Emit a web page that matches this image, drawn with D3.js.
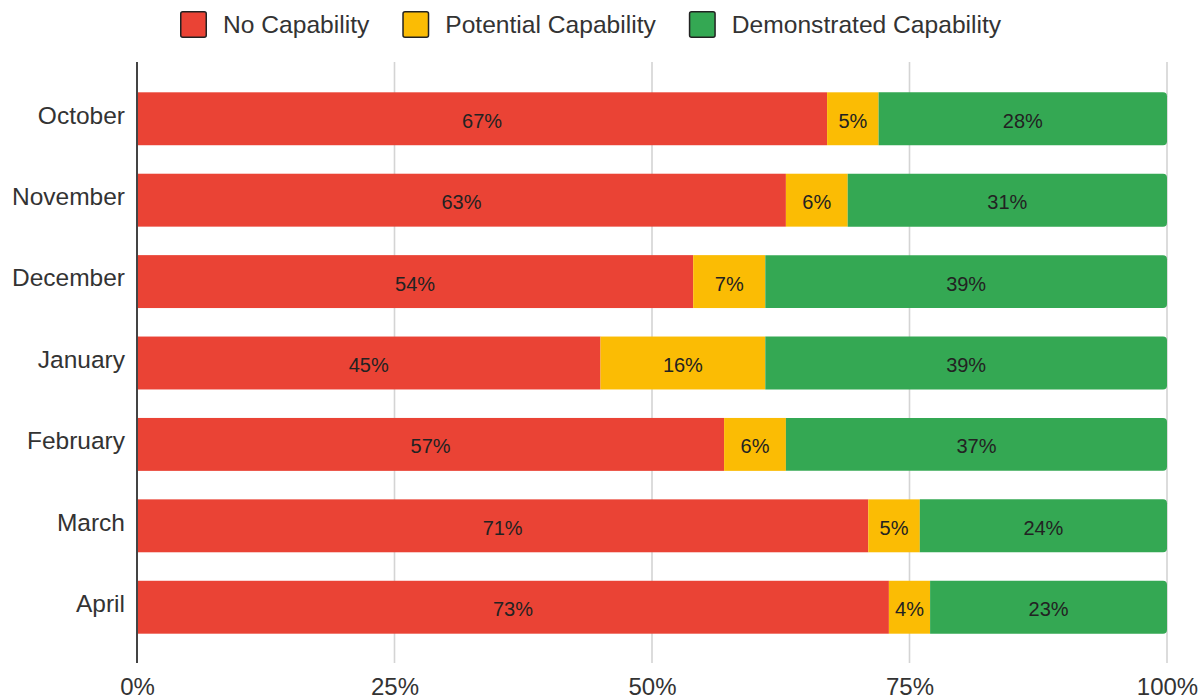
<!DOCTYPE html>
<html>
<head>
<meta charset="utf-8">
<script src="https://cdn.jsdelivr.net/npm/d3@7"></script>
<style>
  html, body { margin: 0; padding: 0; background: #fff; }
  svg { display: block; font-family: Arial, "Liberation Sans", sans-serif; }
</style>
</head>
<body>
<svg id="chart" width="1204" height="700"></svg>
<script>
// Monthly capability breakdown (percent of total)
const months = ["October", "November", "December", "January", "February", "March", "April"];
const noCapability = [67, 63, 54, 45, 57, 71, 73];
const potentialCapability = [5, 6, 7, 16, 6, 5, 4];
const demonstratedCapability = [28, 31, 39, 39, 37, 24, 23];
const seriesNames = ["No Capability", "Potential Capability", "Demonstrated Capability"];
const seriesColors = ["#EA4335", "#FBBC04", "#34A853"];
const tickValues = [0, 25, 50, 75, 100];

const svg = d3.select("#chart");
const margin = { left: 137, right: 37, top: 62, bottom: 37 };
const W = 1204, H = 700;

const rows = months.map((m, i) => ({
  month: m,
  values: [noCapability[i], potentialCapability[i], demonstratedCapability[i]]
}));

const x = d3.scaleLinear().domain([0, 100]).range([margin.left, W - margin.right]);
const y = d3.scaleBand().domain(months)
  .range([margin.top + 1, H - margin.bottom])
  .paddingInner(0.35).paddingOuter(0.36);

// vertical gridlines
svg.append("g").selectAll("line")
  .data(tickValues.filter(t => t > 0))
  .join("line")
  .attr("x1", d => x(d)).attr("x2", d => x(d))
  .attr("y1", margin.top).attr("y2", H - margin.bottom)
  .attr("stroke", "#d4d4d4").attr("stroke-width", 1.6);

// x axis tick labels
const xAxis = d3.axisBottom(x).tickValues(tickValues).tickFormat(d => d + "%").tickSize(0);
const gx = svg.append("g").attr("transform", `translate(0,${H - margin.bottom})`).call(xAxis);
gx.select(".domain").remove();
gx.selectAll("text")
  .attr("y", 0).attr("dy", "32px")
  .attr("font-size", 24).attr("fill", "#333")
  .attr("font-family", "Arial, 'Liberation Sans', sans-serif");

// stacked bars
const stack = rows.map(r => {
  let acc = 0;
  return r.values.map((v, k) => {
    const seg = { month: r.month, k, v, x0: acc, x1: acc + v };
    acc += v;
    return seg;
  });
});

const barG = svg.append("g");
const radius = 4;
stack.forEach(segs => {
  segs.forEach(s => {
    const x0 = x(s.x0), x1 = x(s.x1), y0 = y(s.month), h = y.bandwidth();
    if (s.k === segs.length - 1) {
      // last segment: rounded right end
      const r = radius;
      const p = d3.path();
      p.moveTo(x0, y0);
      p.lineTo(x1 - r, y0);
      p.quadraticCurveTo(x1, y0, x1, y0 + r);
      p.lineTo(x1, y0 + h - r);
      p.quadraticCurveTo(x1, y0 + h, x1 - r, y0 + h);
      p.lineTo(x0, y0 + h);
      p.closePath();
      barG.append("path").attr("d", p.toString()).attr("fill", seriesColors[s.k]);
    } else {
      barG.append("rect")
        .attr("x", x0).attr("y", y0)
        .attr("width", x1 - x0).attr("height", h)
        .attr("fill", seriesColors[s.k]);
    }
    barG.append("text")
      .attr("x", (x0 + x1) / 2)
      .attr("y", y0 + h / 2 + 2)
      .attr("text-anchor", "middle")
      .attr("dominant-baseline", "central")
      .attr("font-size", 20)
      .attr("fill", "#222")
      .text(s.v + "%");
  });
});

// y axis line
svg.append("line")
  .attr("x1", x(0)).attr("x2", x(0))
  .attr("y1", margin.top).attr("y2", H - margin.bottom)
  .attr("stroke", "#444").attr("stroke-width", 2);

// category labels
const yAxis = d3.axisLeft(y).tickSize(0).tickPadding(12);
const gy = svg.append("g").attr("transform", `translate(${x(0)},0)`).call(yAxis);
gy.select(".domain").remove();
gy.selectAll("text")
  .attr("font-size", 24.5).attr("fill", "#333")
  .attr("font-family", "Arial, 'Liberation Sans', sans-serif")
  .attr("dy", "0.2em");

// legend
const legend = svg.append("g");
let lx = 180;
seriesNames.forEach((name, i) => {
  legend.append("rect")
    .attr("x", lx + 0.75).attr("y", 11.75)
    .attr("width", 25.5).attr("height", 25.5)
    .attr("rx", 2)
    .attr("fill", seriesColors[i])
    .attr("stroke", "#222").attr("stroke-width", 1.5);
  const t = legend.append("text")
    .attr("x", lx + 43).attr("y", 24.5)
    .attr("dominant-baseline", "central")
    .attr("font-size", 24.6).attr("fill", "#333")
    .text(name);
  lx += 43 + t.node().getComputedTextLength() + 33;
});
</script>
</body>
</html>
